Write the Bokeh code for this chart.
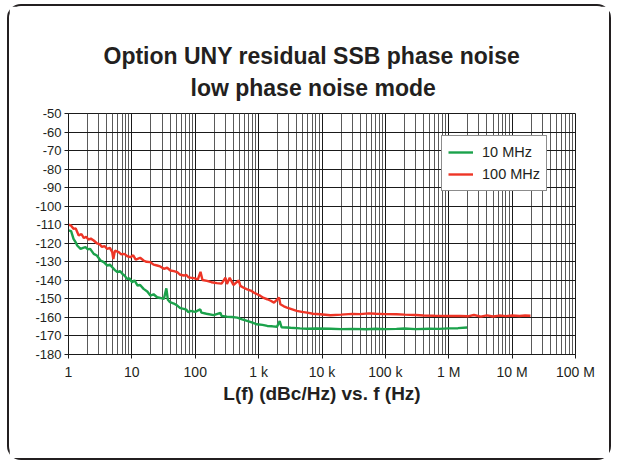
from bokeh.plotting import figure
from bokeh.models import FixedTicker, Range1d, Legend, LegendItem, Title
from bokeh.embed import file_html
from bokeh.resources import INLINE

# ---------------- data ----------------
x_major_ticks = [1, 10, 100, 1000, 10000, 100000, 1000000, 10000000, 100000000]
x_tick_labels = ["1", "10", "100", "1 k", "10 k", "100 k", "1 M", "10 M", "100 M"]
y_ticks = [-180, -170, -160, -150, -140, -130, -120, -110, -100, -90, -80, -70, -60, -50]

series_names = ["10 MHz", "100 MHz"]

f_10mhz = [1, 1.1, 1.2, 1.3, 1.37, 1.55, 1.7, 1.85, 2.0, 2.2,
           2.5, 2.8, 3.2, 3.6, 4.1, 4.5, 4.9, 5.4, 5.9, 6.5,
           7.1, 7.7, 8.4, 9.2, 10.1, 11, 12.3, 13.5, 15.3, 17.5,
           19.6, 22, 25, 28, 32, 35, 37, 40, 46, 52,
           58, 66, 72, 78, 84, 100, 120, 125, 150, 195,
           250, 260, 316, 380, 460, 550, 660, 800, 940, 1150,
           1370, 1650, 1950, 2150, 2300, 3200, 4500, 5800, 8000, 13600,
           20000, 30000, 50000, 70000, 100000, 150000, 200000, 300000, 500000, 700000,
           1000000, 1400000, 1950000]
l_10mhz = [-113, -113.5, -117.6, -119.5, -121.2, -123, -122.5, -122.1, -123.2, -123,
           -125.7, -126.6, -129.3, -130.2, -132, -131.5, -132.9, -134.5, -135.6, -135,
           -136.5, -137.5, -139.2, -139, -141, -140, -142.8, -142.5, -144.6, -146,
           -148.2, -147.5, -149.1, -149.5, -150, -144.3, -150.5, -151.8, -152.5, -153.6,
           -155, -155.4, -155.8, -157.2, -156.5, -157, -155.6, -157.4, -158, -158.8,
           -157.5, -159.2, -159.6, -159.8, -160.1, -161, -161.9, -162.8, -163.7, -164,
           -164.6, -164.8, -165, -162, -165.3, -165.6, -165.9, -166.1, -166, -166.1,
           -166.3, -166.2, -166.4, -166.1, -166.3, -166.2, -166, -166.3, -166.1, -166.2,
           -165.9, -165.8, -165.4]

f_100mhz = [1, 1.1, 1.2, 1.3, 1.45, 1.6, 1.75, 1.9, 2.06, 2.25,
            2.5, 2.8, 3.1, 3.37, 3.7, 4.07, 4.5, 4.9, 5.1, 5.4,
            6.2, 6.8, 7.6, 8.5, 9.5, 10.5, 11.5, 12.3, 13.5, 15.3,
            17, 19.6, 22, 25, 28, 32, 36, 40.6, 46, 52,
            58, 66, 72, 78, 84, 95, 110, 121, 130, 153,
            180, 220, 260, 300, 316, 350, 400, 485, 515, 580,
            660, 750, 840, 950, 1070, 1200, 1370, 1550, 1750, 2100,
            2200, 2500, 2800, 3300, 4000, 4800, 5800, 7200, 9300, 13600,
            20000, 30000, 40000, 55000, 70000, 100000, 150000, 200000, 300000, 400000,
            600000, 1000000, 1500000, 2000000, 2500000, 3200000, 4000000, 5000000, 6300000, 8000000,
            10000000, 13000000, 16000000, 19500000]
l_100mhz = [-110, -110.5, -112.2, -112, -115.8, -115, -117.2, -116.5, -118, -117.5,
            -118.5, -120, -120.5, -122, -121.5, -123, -122.5, -124.8, -128.5, -124,
            -124.8, -126, -125.7, -127, -127.5, -126.5, -128.8, -128.4, -127.8, -129.3,
            -130, -130.2, -131.5, -132, -132.5, -133.8, -133.2, -134.7, -135, -135.6,
            -137, -137.4, -137, -138.3, -138.5, -138.8, -139.5, -135.4, -139.8, -140.3,
            -141, -141.5, -141.8, -138.6, -142, -138.6, -142.5, -140, -143, -144,
            -144.9, -145.5, -146.6, -147.5, -148.4, -149.5, -150.2, -151, -152, -149.3,
            -152.9, -154, -154.7, -155.5, -156.5, -157, -157.4, -158, -158.3, -158.8,
            -158.5, -158.1, -158.2, -157.8, -158, -158.2, -158.3, -158.5, -158.7, -159,
            -159.1, -159.2, -159.2, -159.4, -158.7, -159.6, -158.9, -159.5, -159, -159.3,
            -159, -159.2, -159, -159.1]

title_lines = ["Option UNY residual SSB phase noise", "low phase noise mode"]

# ---------------- styling ----------------
FONT = "Liberation Sans"
INK = "#231f20"
GREEN = "#1ba24b"
RED = "#ee3526"

p = figure(width=604, height=456, x_axis_type="log",
           x_range=Range1d(1, 1e8), y_range=Range1d(-180, -50),
           output_backend="svg", toolbar_location=None,
           min_border_left=59, min_border_right=38,
           min_border_top=107, min_border_bottom=108)
p.styles = {"border": "2px solid #231f20", "border-radius": "14px",
            "margin-left": "7px", "margin-top": "4px"}
p.outline_line_color = "#1a1a1a"
p.background_fill_color = "white"
p.border_fill_color = "white"

minor = []
for d in x_major_ticks[:-1]:
    for k in range(2, 10):
        minor.append(d * k)
p.xaxis.ticker = FixedTicker(ticks=x_major_ticks, minor_ticks=minor)
p.xaxis.major_label_overrides = {t: s for t, s in zip(x_major_ticks, x_tick_labels)}
p.yaxis.ticker = FixedTicker(ticks=y_ticks)
p.yaxis.major_label_overrides = {t: str(t) for t in y_ticks}

for ax in (p.xaxis, p.yaxis):
    ax.axis_line_color = "#1a1a1a"
    ax.major_tick_line_color = "#1a1a1a"
    ax.major_tick_out = 4
    ax.major_tick_in = 0
    ax.minor_tick_line_color = None
    ax.major_label_text_font = FONT
    ax.major_label_text_color = INK
p.xaxis.major_label_text_font_size = "14px"
p.yaxis.major_label_text_font_size = "13px"
p.xaxis.major_label_standoff = 5
p.yaxis.major_label_standoff = 3

p.xaxis.axis_label = "L(f) (dBc/Hz) vs. f (Hz)"
p.xaxis.axis_label_text_font = FONT
p.xaxis.axis_label_text_font_style = "bold"
p.xaxis.axis_label_text_font_size = "19px"
p.xaxis.axis_label_text_color = INK
p.xaxis.axis_label_standoff = 0

p.xgrid.grid_line_color = "#1a1a1a"
p.xgrid.minor_grid_line_color = "#5a5a5a"
p.ygrid.grid_line_color = "#1a1a1a"

r10 = p.line(f_10mhz, l_10mhz, line_color=GREEN, line_width=2.4)
r100 = p.line(f_100mhz, l_100mhz, line_color=RED, line_width=2.4)

legend = Legend(items=[LegendItem(label=series_names[0], renderers=[r10]),
                       LegendItem(label=series_names[1], renderers=[r100])],
                location=(373, 163))
legend.label_text_font = FONT
legend.label_text_font_size = "14.5px"
legend.label_text_color = INK
legend.glyph_width = 25
legend.glyph_height = 20
legend.label_height = 20
legend.label_standoff = 9
legend.spacing = 2
legend.padding = 6
legend.margin = 0
legend.border_line_color = "#1a1a1a"
legend.border_line_width = 1
legend.background_fill_color = "white"
legend.background_fill_alpha = 1
p.add_layout(legend)

# title: first added sits closest to the plot
p.add_layout(Title(text=title_lines[1], align="left", offset=122, text_font=FONT,
                   text_font_style="bold", text_font_size="23px",
                   text_color=INK, standoff=26), "above")
p.add_layout(Title(text=title_lines[0], align="left", offset=35, text_font=FONT,
                   text_font_style="bold", text_font_size="23px",
                   text_color=INK, standoff=-18), "above")

open("out.html", "w").write(file_html(p, INLINE))
